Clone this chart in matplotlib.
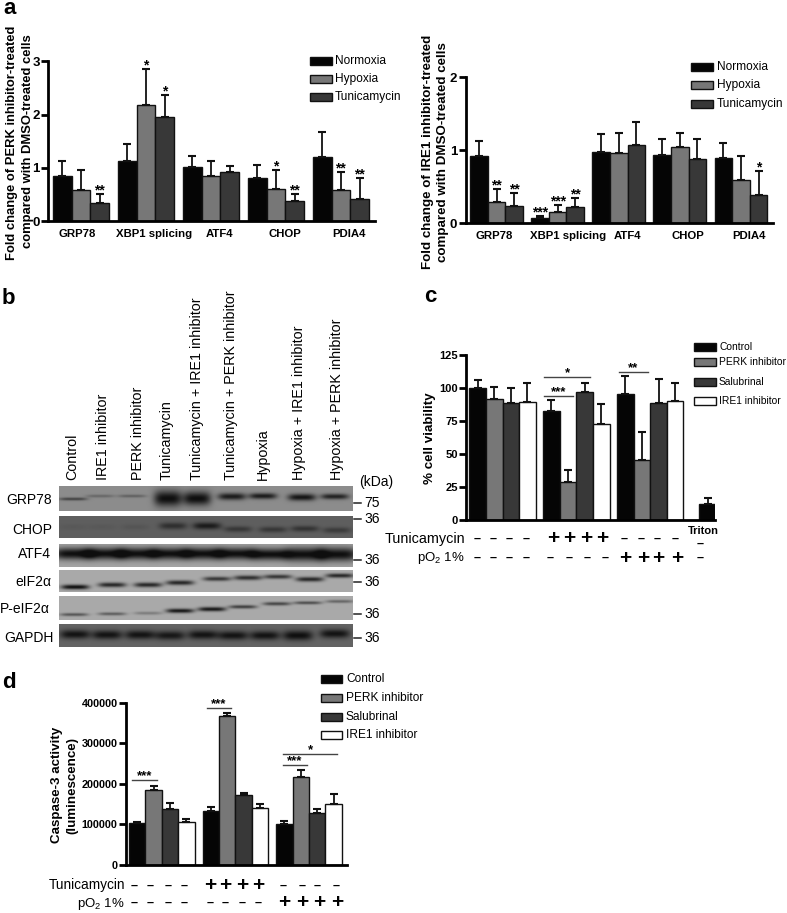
import matplotlib
matplotlib.use("Agg")
import matplotlib.pyplot as plt
import numpy as np

plt.rcParams['font.family'] = ['Liberation Sans', 'DejaVu Sans']
plt.rcParams['mathtext.fontset'] = 'custom'
plt.rcParams['mathtext.rm'] = 'Liberation Sans'
plt.rcParams['mathtext.default'] = 'regular'

W, H = 787, 913

# panel a, PERK inhibitor
genes = ["GRP78", "XBP1 splicing", "ATF4", "CHOP", "PDIA4"]
perk_norm = [0.85, 1.12, 1.02, 0.80, 1.20]
perk_norm_top = [1.12, 1.45, 1.22, 1.06, 1.67]
perk_hyp = [0.58, 2.17, 0.85, 0.61, 0.58]
perk_hyp_top = [0.95, 2.85, 1.12, 0.96, 0.92]
perk_tun = [0.34, 1.95, 0.92, 0.37, 0.41]
perk_tun_top = [0.50, 2.37, 1.04, 0.50, 0.80]
perk_hyp_sig = ["", "*", "", "*", "**"]
perk_tun_sig = ["**", "*", "", "**", "**"]

# panel a, IRE1 inhibitor
ire_norm = [0.92, 0.07, 0.98, 0.94, 0.89]
ire_norm_top = [1.13, 0.10, 1.22, 1.15, 1.10]
ire_hyp = [0.29, 0.15, 0.96, 1.04, 0.59]
ire_hyp_top = [0.47, 0.25, 1.23, 1.23, 0.92]
ire_tun = [0.24, 0.22, 1.07, 0.88, 0.38]
ire_tun_top = [0.41, 0.35, 1.38, 1.15, 0.71]
ire_norm_sig = ["", "***", "", "", ""]
ire_hyp_sig = ["**", "***", "", "", ""]
ire_tun_sig = ["**", "**", "", "", "*"]

# panel c
via_ctrl = [100, 82.5, 95.5]
via_ctrl_top = [106, 91, 109]
via_perk = [91.5, 28.5, 45.5]
via_perk_top = [101, 38, 67]
via_salu = [89, 97, 89]
via_salu_top = [100, 104, 107]
via_ire = [89.5, 73, 90]
via_ire_top = [104, 88, 103.5]
triton = 12
triton_top = 16.5

# panel d
casp_ctrl = [103000, 132000, 100000]
casp_ctrl_top = [107000, 143000, 108000]
casp_perk = [185000, 368000, 218000]
casp_perk_top = [195000, 374000, 233000]
casp_salu = [137000, 172000, 127000]
casp_salu_top = [153000, 178000, 138000]
casp_ire = [107000, 140000, 150000]
casp_ire_top = [113000, 151000, 175000]

# panel b
lanes = ["Control", "IRE1 inhibitor", "PERK inhibitor", "Tunicamycin",
         "Tunicamycin + IRE1 inhibitor", "Tunicamycin + PERK inhibitor",
         "Hypoxia", "Hypoxia + IRE1 inhibitor", "Hypoxia + PERK inhibitor"]
blot_names = ["GRP78", "CHOP", "ATF4", "eIF2\u03b1", "P-eIF2\u03b1", "GAPDH"]
blot_kda = ["75", "36", "36", "36", "36", "36"]
grp78_dark = [0.6, 0.3, 0.35, 1.0, 1.0, 0.9, 0.9, 0.95, 0.85]
grp78_pos = [0.52, 0.40, 0.40, 0.50, 0.50, 0.42, 0.40, 0.45, 0.42]
grp78_thick = [1.5, 1.5, 1.5, 8, 7, 3.5, 3, 3.5, 2.8]
chop_dark = [0.08, 0.08, 0.12, 0.6, 0.85, 0.5, 0.5, 0.55, 0.45]
chop_pos = [0.5, 0.5, 0.5, 0.45, 0.45, 0.6, 0.62, 0.58, 0.65]
chop_thick = [3, 3, 3, 3.5, 3.5, 3, 3, 3, 3]
atf4_dark = [1.0, 1.0, 1.0, 1.0, 1.0, 1.0, 1.0, 1.0, 1.0]
atf4_pos = [0.42, 0.42, 0.42, 0.42, 0.42, 0.42, 0.45, 0.45, 0.45]
atf4_thick = [6, 6, 6, 6, 6, 6, 6, 7, 7]
eif_dark = [1.0, 0.85, 0.85, 0.85, 0.75, 0.8, 0.75, 0.85, 0.85]
eif_pos = [0.78, 0.68, 0.68, 0.58, 0.40, 0.35, 0.30, 0.42, 0.25]
eif_thick = [2.4, 2.4, 2.4, 2.4, 2.2, 2.4, 2.2, 2.4, 2.2]
peif_dark = [0.55, 0.5, 0.3, 0.95, 0.95, 0.7, 0.65, 0.6, 0.45]
peif_pos = [0.78, 0.75, 0.72, 0.62, 0.55, 0.45, 0.32, 0.28, 0.22]
peif_thick = [1.6, 1.6, 1.6, 2.2, 2.2, 1.8, 1.8, 1.6, 1.6]
gapdh_dark = [0.95, 0.95, 0.95, 0.9, 0.95, 0.95, 0.95, 1.0, 0.95]
gapdh_pos = [0.45, 0.47, 0.47, 0.50, 0.47, 0.50, 0.50, 0.50, 0.42]
gapdh_thick = [4.5, 4.5, 4.5, 4.5, 4.5, 4.5, 4.5, 5, 4.5]

BLACK, MID, DARK, WHITE = "#050505", "#777777", "#383838", "#ffffff"


def make_axes(left, right, top, bottom):
    ax = fig.add_axes([left / W, 1 - bottom / H, (right - left) / W, (bottom - top) / H])
    ax.patch.set_alpha(0)
    for s in ("top", "right"):
        ax.spines[s].set_visible(False)
    for s in ("left", "bottom"):
        ax.spines[s].set_linewidth(2)
    ax.tick_params(axis="y", width=2, length=5, pad=1, labelsize=9)
    ax.tick_params(axis="x", length=0, labelbottom=False)
    return ax


def bars(ax, x, vals, tops, color, sig=None, star_size=10):
    ax.bar(x, vals, width=1.0, color=color, edgecolor="#111111", linewidth=1)
    low = np.zeros(len(vals))
    up = np.array(tops) - np.array(vals)
    ax.errorbar(x, vals, yerr=[low, up], fmt="none", ecolor="#111111", elinewidth=1.3,
                capsize=3.2, capthick=1.5)
    if sig:
        for xi, t, s in zip(x, tops, sig):
            if s:
                ax.annotate(s, (xi, t), xytext=(0, -2.5), textcoords="offset points",
                            ha="center", va="bottom", fontsize=star_size, fontweight="bold")


def legend(names, colors, x0, x1, ys, tx, size):
    for n, c, y in zip(names, colors, ys):
        over.fill([x0, x1, x1, x0], [y - 4, y - 4, y + 4, y + 4], facecolor=c,
                  edgecolor="#111111", linewidth=1)
        over.text(tx, y, n, fontsize=size, va="center", ha="left")


def sign_row(xs, y, marks):
    for x, m in zip(xs, marks):
        if m == "+":
            over.text(x, y, "+", fontsize=15, fontweight="bold", ha="center", va="center")
        else:
            over.text(x, y, "\u2013", fontsize=9, fontweight="bold", ha="center", va="center")


def sig_line(x0, x1, y, s):
    over.plot([x0, x1], [y, y], color="#444444", lw=1)
    over.text((x0 + x1) / 2, y + 2, s, fontsize=9.5, fontweight="bold", ha="center", va="bottom")


fig = plt.figure(figsize=(W / 100, H / 100), dpi=100)

# overlay in pixel coordinates for texts, legends and the blot
over = fig.add_axes([0, 0, 1, 1])
over.axis("off")

# --- a left
ax1 = make_axes(48, 375, 61.3, 221)
pos = np.arange(5) * 3.48
bars(ax1, pos + 0.5, perk_norm, perk_norm_top, BLACK)
bars(ax1, pos + 1.5, perk_hyp, perk_hyp_top, MID, perk_hyp_sig)
bars(ax1, pos + 2.5, perk_tun, perk_tun_top, DARK, perk_tun_sig)
ax1.set_xlim(-0.27, 17.25)
ax1.set_ylim(0, 3)
ax1.set_yticks([0, 1, 2, 3])
ax1.set_yticklabels(["0", "1", "2", "3"], fontweight="bold", fontsize=9.5)

for g, x in zip(genes, [77, 154, 220, 285, 349]):
    over.text(x, 234, g, fontsize=8.2, fontweight="bold", ha="center", va="center")
over.text(12, 143, "Fold change of PERK inhibitor-treated", rotation=90, fontsize=9.4,
          fontweight="bold", ha="center", va="center")
over.text(28, 141, "compared with DMSO-treated cells", rotation=90, fontsize=9.4,
          fontweight="bold", ha="center", va="center")
legend(["Normoxia", "Hypoxia", "Tunicamycin"], [BLACK, MID, DARK], 310, 332, [61, 79, 97], 335, 8.6)

# --- a right
ax2 = make_axes(465.7, 773, 77.3, 223)
pos = np.arange(5) * 3.47
bars(ax2, pos + 0.5, ire_norm, ire_norm_top, BLACK, ire_norm_sig)
bars(ax2, pos + 1.5, ire_hyp, ire_hyp_top, MID, ire_hyp_sig)
bars(ax2, pos + 2.5, ire_tun, ire_tun_top, DARK, ire_tun_sig)
ax2.set_xlim(-0.25, 17.2)
ax2.set_ylim(0, 2)
ax2.set_yticks([0, 1, 2])
ax2.set_yticklabels(["0", "1", "2"], fontweight="bold", fontsize=9.5)

for g, x in zip(genes, [494, 568, 628, 688, 749]):
    over.text(x, 236, g, fontsize=8.2, fontweight="bold", ha="center", va="center")
over.text(428, 152, "Fold change of IRE1 inhibitor-treated", rotation=90, fontsize=9.6,
          fontweight="bold", ha="center", va="center")
over.text(443, 152, "compared with DMSO-treated cells", rotation=90, fontsize=9.6,
          fontweight="bold", ha="center", va="center")
legend(["Normoxia", "Hypoxia", "Tunicamycin"], [BLACK, MID, DARK], 691, 713, [67, 85, 104], 717, 8.6)

# --- b blot
blot_rows = [(486, 511, 140, grp78_dark, grp78_pos, grp78_thick,
              [73, 100, 132, 168, 197, 232, 263, 302, 335], 14),
             (516, 538, 95, chop_dark, chop_pos, chop_thick,
              [73, 102, 135, 173, 207, 238, 273, 305, 337], 14),
             (544, 567, 165, atf4_dark, atf4_pos, atf4_thick,
              [73, 105, 137, 170, 203, 236, 270, 305, 338], 20),
             (570, 592, 170, eif_dark, eif_pos, eif_thick,
              [75, 112, 148, 180, 217, 248, 278, 310, 340], 14),
             (596, 620, 170, peif_dark, peif_pos, peif_thick,
              [74, 112, 148, 180, 212, 243, 277, 308, 340], 14),
             (624, 647, 100, gapdh_dark, gapdh_pos, gapdh_thick,
              [75, 107, 140, 170, 203, 233, 265, 298, 335], 15)]
blot_left, blot_right = 59, 353
for top, bot, bg, dark, ypos, thick, lane_x, half in blot_rows:
    xx = np.linspace(blot_left, blot_right, 2 * (blot_right - blot_left))
    yy = np.linspace(top, bot, 2 * (bot - top))
    X, Y = np.meshgrid(xx, yy)
    band = np.zeros_like(X)
    for cx, d, f, th in zip(lane_x, dark, ypos, thick):
        cy = top + f * (bot - top)
        band += d * np.exp(-((X - cx) / half) ** 4) * np.exp(-((Y - cy) / th) ** 2)
    img = bg - (bg - 15) * np.clip(band, 0, 1)
    over.imshow(img, cmap="gray", vmin=0, vmax=255, aspect="auto",
                extent=(blot_left, blot_right, bot, top), interpolation="bilinear")

for name, x in zip(lanes, [72, 103, 138, 167, 197, 231, 263, 299, 337]):
    over.text(x, 480, name, rotation=90, fontsize=10.3, ha="center", va="bottom")
for name, x, y in zip(blot_names, [29, 32, 34, 33, 25, 29], [500, 530, 554, 582, 609, 638]):
    over.text(x, y, name, fontsize=10, ha="center", va="center")
over.text(359, 482, "(kDa)", fontsize=10, ha="left", va="center")
for k, y in zip(blot_kda, [503, 519, 560, 582, 614, 638]):
    over.plot([354, 361], [y, y], color="#222222", lw=1.1)
    over.text(364, y, k, fontsize=10, ha="left", va="center")

# --- c
ax3 = make_axes(466, 715, 355, 520)
pos = np.arange(3) * 4.45
bars(ax3, pos + 0.5, via_ctrl, via_ctrl_top, BLACK)
bars(ax3, pos + 1.5, via_perk, via_perk_top, MID)
bars(ax3, pos + 2.5, via_salu, via_salu_top, DARK)
bars(ax3, pos + 3.5, via_ire, via_ire_top, WHITE)
bars(ax3, [13.85 + 0.5], [triton], [triton_top], BLACK)
ax3.set_xlim(-0.2, 14.8)
ax3.set_ylim(0, 125)
ax3.set_yticks([0, 25, 50, 75, 100, 125])
ax3.set_yticklabels(["0", "25", "50", "75", "100", "125"], fontweight="bold", fontsize=8)

over.text(430, 438, "% cell viability", rotation=90, fontsize=9.6, fontweight="bold",
          ha="center", va="center")
legend(["Control", "PERK inhibitor", "Salubrinal", "IRE1 inhibitor"], [BLACK, MID, DARK, WHITE],
       694, 716, [347, 362, 382, 401], 719, 7.4)
sig_line(544, 590, 377, "*")
sig_line(544, 573, 396, "***")
sig_line(619, 648, 372, "**")
over.text(465, 539, "Tunicamycin", fontsize=10.4, ha="right", va="center")
over.text(465, 558, "pO$_2$ 1%", fontsize=9.5, ha="right", va="center")
sign_row([477, 493, 509, 526, 553, 569, 586, 602, 624, 641, 657, 675], 539, "----++++----")
sign_row([477, 493, 509, 526, 550, 569, 587, 605, 625, 643, 658, 677, 700], 558, "--------++++-")
sign_row([700], 544, "-")
over.text(688, 531, "Triton", fontsize=8, fontweight="bold", ha="left", va="center")

# --- d
ax4 = make_axes(126, 347, 702.7, 865)
pos = np.arange(3) * 4.49
bars(ax4, pos + 0.5, casp_ctrl, casp_ctrl_top, BLACK)
bars(ax4, pos + 1.5, casp_perk, casp_perk_top, MID)
bars(ax4, pos + 2.5, casp_salu, casp_salu_top, DARK)
bars(ax4, pos + 3.5, casp_ire, casp_ire_top, WHITE)
ax4.set_xlim(-0.18, 13.3)
ax4.set_ylim(0, 400000)
ax4.set_yticks([0, 100000, 200000, 300000, 400000])
ax4.set_yticklabels(["0", "100000", "200000", "300000", "400000"], fontweight="bold", fontsize=7.8)

over.text(57, 785, "Caspase-3 activity", rotation=90, fontsize=9.6, fontweight="bold",
          ha="center", va="center")
over.text(72, 785, "(luminescence)", rotation=90, fontsize=9.6, fontweight="bold",
          ha="center", va="center")
legend(["Control", "PERK inhibitor", "Salubrinal", "IRE1 inhibitor"], [BLACK, MID, DARK, WHITE],
       321, 342, [679, 698, 717, 735], 346, 8.6)
sig_line(132, 157, 780, "***")
sig_line(207, 231, 708, "***")
sig_line(283, 337, 754, "*")
sig_line(283, 307, 765, "***")
over.text(125, 885.5, "Tunicamycin", fontsize=9.8, ha="right", va="center")
over.text(125, 904, "pO$_2$ 1%", fontsize=9.5, ha="right", va="center")
sign_row([134, 150, 168, 184, 210, 225, 242, 258, 283, 302, 317, 336], 885.5, "----++++----")
sign_row([134, 150, 168, 184, 210, 225, 242, 258, 284, 302, 319, 337], 903, "--------++++")

# panel letters
for s, x, y in [("a", 3, 9), ("b", 2, 298), ("c", 424, 297), ("d", 2, 682)]:
    over.text(x, y, s, fontsize=16, fontweight="bold", ha="left", va="center")

over.set_xlim(0, W)
over.set_ylim(H, 0)

fig.savefig("out.png", dpi=100)
